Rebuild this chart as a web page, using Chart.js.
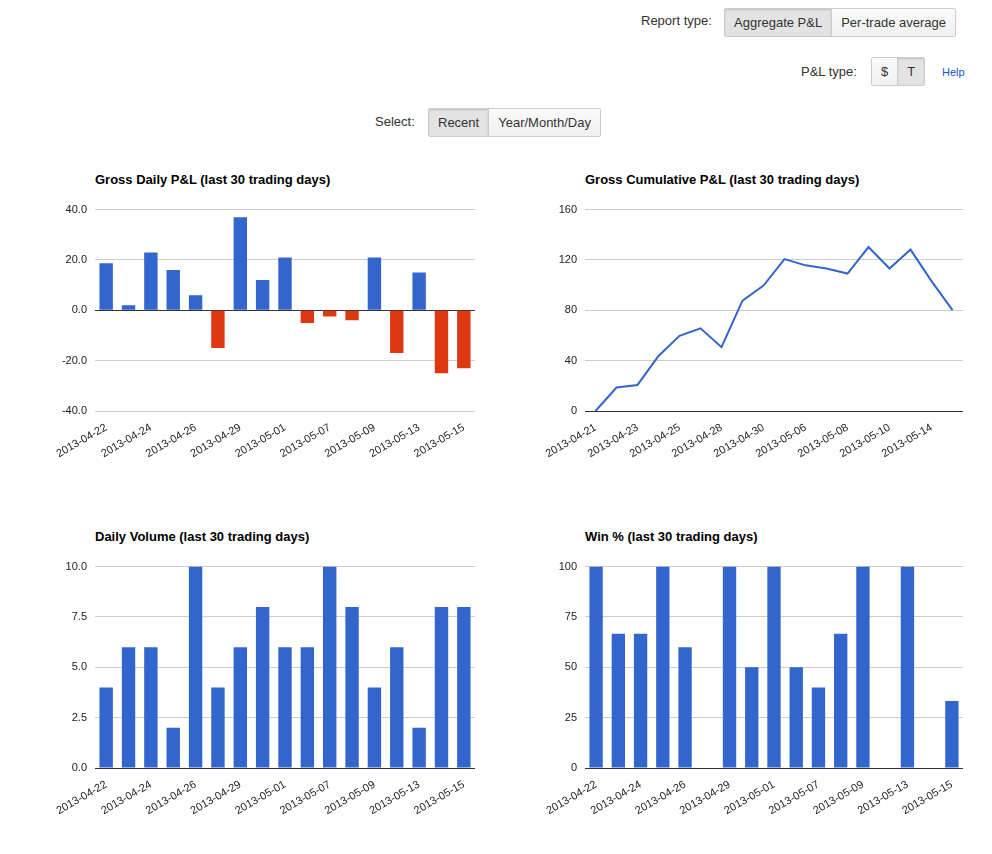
<!DOCTYPE html>
<html>
<head>
<meta charset="utf-8">
<script src="https://cdn.jsdelivr.net/npm/chart.js@4"></script>
<style>
body { margin:0; width:992px; height:854px; position:relative; font-family:"Liberation Sans", Arial, sans-serif; font-size:13px; color:#333; background:#fff; }
.lbl { position:absolute; font-size:13px; color:#333; }
.grp { position:absolute; display:flex; border:1px solid #ccc; border-radius:2px; }
.grp div { padding:0 9px; line-height:27px; font-size:13px; color:#333; background:linear-gradient(#fafafa,#f1f1f1); border-left:1px solid #ccc; }
.grp div:first-child { border-left:none; }
.grp div.on { background:#e3e3e3; box-shadow:inset 0 1px 2px rgba(0,0,0,.15); }
.title { position:absolute; font-weight:bold; font-size:13px; color:#000; }
canvas { position:absolute; }
a { color:#15c; font-size:11px; text-decoration:none; position:absolute; }
</style>
</head>
<body>
<span class="lbl" style="left:641px;top:13px">Report type:</span>
<div class="grp" style="left:724px;top:8px"><div class="on">Aggregate P&amp;L</div><div>Per-trade average</div></div>
<span class="lbl" style="left:801px;top:64px">P&amp;L type:</span>
<div class="grp" style="left:871px;top:57px"><div>$</div><div class="on">T</div></div>
<a style="left:942px;top:66px">Help</a>
<span class="lbl" style="left:375px;top:114px">Select:</span>
<div class="grp" style="left:428px;top:108px"><div class="on">Recent</div><div>Year/Month/Day</div></div>

<div class="title" style="left:95px;top:172px">Gross Daily P&amp;L (last 30 trading days)</div>
<div class="title" style="left:585px;top:172px">Gross Cumulative P&amp;L (last 30 trading days)</div>
<div class="title" style="left:95px;top:529px">Daily Volume (last 30 trading days)</div>
<div class="title" style="left:585px;top:529px">Win % (last 30 trading days)</div>

<canvas id="c1" style="left:40px;top:195px" width="440" height="266"></canvas>
<canvas id="c2" style="left:530px;top:195px" width="438" height="266"></canvas>
<canvas id="c3" style="left:40px;top:552px" width="440" height="266"></canvas>
<canvas id="c4" style="left:530px;top:552px" width="438" height="266"></canvas>

<script>
var dates = ['2013-04-22','2013-04-23','2013-04-24','2013-04-25','2013-04-26','2013-04-28','2013-04-29','2013-04-30','2013-05-01','2013-05-06','2013-05-07','2013-05-08','2013-05-09','2013-05-10','2013-05-13','2013-05-14','2013-05-15'];
var cumDates = ['2013-04-21'].concat(dates);
var dailyPnl = [18.7, 2, 23, 16, 6, -15, 37, 12, 21, -5, -2.5, -4, 21, -17, 15, -25, -23];
var cumPnl = [0, 18.7, 20.7, 43.7, 59.7, 65.7, 50.7, 87.7, 99.7, 120.7, 115.7, 113.2, 109.2, 130.2, 113.2, 128.2, 103.2, 80.2];
var volume = [4, 6, 6, 2, 10, 4, 6, 8, 6, 6, 10, 8, 4, 6, 2, 8, 8];
var winPct = [100, 66.7, 66.7, 100, 60, 0, 100, 50, 100, 50, 40, 66.7, 100, 0, 100, 0, 33.3];

Chart.defaults.font.family = '"Liberation Sans", Arial, sans-serif';
Chart.defaults.font.size = 11;
Chart.defaults.color = '#222';
Chart.defaults.animation = false;

function opts(min, max, step, fmt, offset) {
    return {
        responsive: false,
        layout: { padding: { top: 8, right: 5 } },
        plugins: { legend: { display: false }, tooltip: { enabled: false } },
        scales: {
            x: {
                offset: offset,
                grid: { display: false },
                border: { display: false },
                ticks: {
                    autoSkip: false, minRotation: 30, maxRotation: 30, padding: 2,
                    callback: function(v, i) { return i % 2 == 0 ? this.getLabelForValue(v) : ''; }
                },
                afterFit: function(s) { s.height = 50; }
            },
            y: {
                min: min, max: max,
                border: { display: false },
                grid: {
                    color: function(c) { return c.tick.value == 0 ? '#333' : '#ccc'; },
                    drawTicks: false
                },
                ticks: { stepSize: step, padding: 8, callback: fmt },
                afterFit: function(s) { s.width = 55; }
            }
        }
    };
}
var fix1 = function(v) { return v.toFixed(1); };
var fix0 = function(v) { return v; };

new Chart(document.getElementById('c1'), {
    type: 'bar',
    data: { labels: dates, datasets: [{ data: dailyPnl,
        backgroundColor: dailyPnl.map(function(v) { return v < 0 ? '#dc3912' : '#3366cc'; }),
        barPercentage: 0.6, categoryPercentage: 1 }] },
    options: opts(-40, 40, 20, fix1, true)
});
new Chart(document.getElementById('c2'), {
    type: 'line',
    data: { labels: cumDates, datasets: [{ data: cumPnl, borderColor: '#3366cc', borderWidth: 2, pointRadius: 0, tension: 0 }] },
    options: opts(0, 160, 40, fix0, true)
});
new Chart(document.getElementById('c3'), {
    type: 'bar',
    data: { labels: dates, datasets: [{ data: volume, backgroundColor: '#3366cc', barPercentage: 0.6, categoryPercentage: 1 }] },
    options: opts(0, 10, 2.5, fix1, true)
});
new Chart(document.getElementById('c4'), {
    type: 'bar',
    data: { labels: dates, datasets: [{ data: winPct, backgroundColor: '#3366cc', barPercentage: 0.6, categoryPercentage: 1 }] },
    options: opts(0, 100, 25, fix0, true)
});
</script>
</body>
</html>
